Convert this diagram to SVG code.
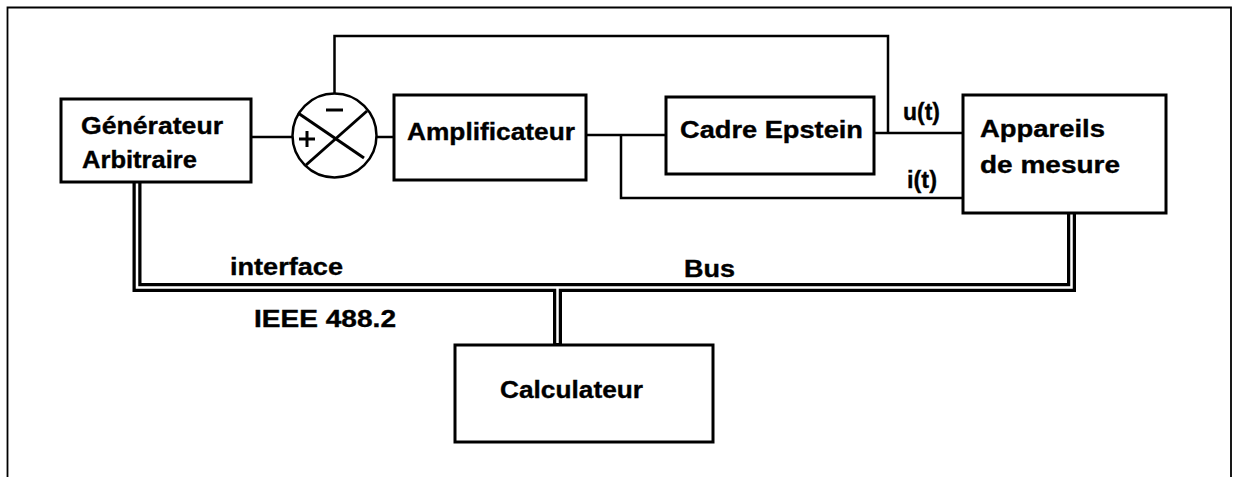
<svg xmlns="http://www.w3.org/2000/svg" width="1238" height="477" viewBox="0 0 1238 477">
<style>
.box{fill:#fff;stroke:#000;stroke-width:3}
.w{fill:none;stroke:#000;stroke-width:2.5}
.busb{fill:none;stroke:#000;stroke-width:9;stroke-linejoin:miter}
.busw{fill:none;stroke:#fff;stroke-width:2.5;stroke-linejoin:miter}
text{font-family:"Liberation Sans",Arial,sans-serif;font-weight:bold;font-size:23px;fill:#000;stroke:#000;stroke-width:0.35}
</style>
<rect width="1238" height="477" fill="#fff"/>
<path d="M7.5,477 V7.5 H1231 V477" fill="none" stroke="#000" stroke-width="1.8"/>
<g id="connectors">
<path class="w" d="M251,137 H292"/>
<path class="w" d="M377,137 H394"/>
<path class="w" d="M586,135 H666"/>
<path class="w" d="M621,135 V198 H963"/>
<path class="w" d="M874,133 H963"/>
<path class="w" d="M334.5,94 V36 H888 V133"/>
<path class="busb" d="M137,182 V287.5 H1071.5 V213"/>
<path class="busb" d="M557.5,287.5 V345"/>
<path class="busw" d="M137,180 V287.5 H1071.5 V211"/>
<path class="busw" d="M557.5,287.5 V343"/>
<text x="230" y="275" textLength="113" lengthAdjust="spacingAndGlyphs">interface</text>
<text x="254" y="327" textLength="142" lengthAdjust="spacingAndGlyphs">IEEE 488.2</text>
<text x="684" y="277" textLength="51" lengthAdjust="spacingAndGlyphs">Bus</text>
<text x="903" y="120" textLength="37" lengthAdjust="spacingAndGlyphs">u(t)</text>
<text x="907" y="188" textLength="30" lengthAdjust="spacingAndGlyphs">i(t)</text>
</g>
<g id="generateur">
<rect class="box" x="61" y="99" width="190" height="83"/>
<text x="81" y="134" textLength="142" lengthAdjust="spacingAndGlyphs">Générateur</text>
<text x="82" y="168" textLength="115" lengthAdjust="spacingAndGlyphs">Arbitraire</text>
</g>
<g id="sommateur">
<circle cx="334.5" cy="135.5" r="42" fill="#fff" stroke="#000" stroke-width="2.5"/>
<line x1="298" y1="113" x2="364" y2="158" stroke="#000" stroke-width="3"/>
<line x1="367" y1="111" x2="306" y2="165" stroke="#000" stroke-width="3"/>
<line x1="326" y1="110" x2="343" y2="110" stroke="#000" stroke-width="3"/>
<line x1="299" y1="139" x2="315" y2="139" stroke="#000" stroke-width="3"/>
<line x1="307" y1="131" x2="307" y2="147" stroke="#000" stroke-width="3"/>
</g>
<g id="amplificateur">
<rect class="box" x="394" y="95" width="192" height="85"/>
<text x="407" y="140" textLength="168" lengthAdjust="spacingAndGlyphs">Amplificateur</text>
</g>
<g id="cadre">
<rect class="box" x="666" y="97" width="208" height="77"/>
<text x="680" y="138" textLength="183" lengthAdjust="spacingAndGlyphs">Cadre Epstein</text>
</g>
<g id="appareils">
<rect class="box" x="963" y="95" width="203" height="118"/>
<text x="980" y="137" textLength="125" lengthAdjust="spacingAndGlyphs">Appareils</text>
<text x="980" y="173" textLength="140" lengthAdjust="spacingAndGlyphs">de mesure</text>
</g>
<g id="calculateur">
<rect class="box" x="455" y="345" width="258" height="97"/>
<text x="500" y="398" textLength="143" lengthAdjust="spacingAndGlyphs">Calculateur</text>
</g>
</svg>
